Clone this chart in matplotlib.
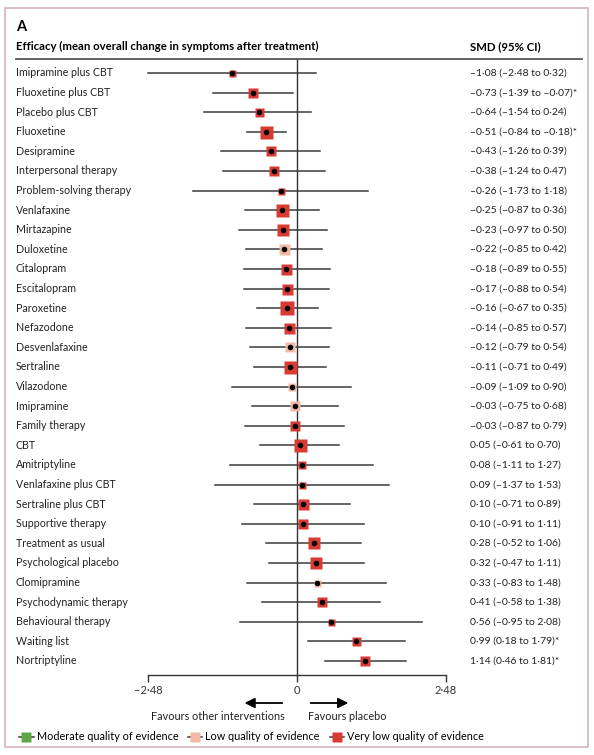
import matplotlib.pyplot as plt
from matplotlib.lines import Line2D
from matplotlib.patches import Rectangle
from matplotlib.transforms import blended_transform_factory

plt.rcParams['font.family'] = ['Lato', 'DejaVu Sans']

# data
names = ['Imipramine plus CBT', 'Fluoxetine plus CBT', 'Placebo plus CBT', 'Fluoxetine',
         'Desipramine', 'Interpersonal therapy', 'Problem-solving therapy', 'Venlafaxine',
         'Mirtazapine', 'Duloxetine', 'Citalopram', 'Escitalopram', 'Paroxetine',
         'Nefazodone', 'Desvenlafaxine', 'Sertraline', 'Vilazodone', 'Imipramine',
         'Family therapy', 'CBT', 'Amitriptyline', 'Venlafaxine plus CBT',
         'Sertraline plus CBT', 'Supportive therapy', 'Treatment as usual',
         'Psychological placebo', 'Clomipramine', 'Psychodynamic therapy',
         'Behavioural therapy', 'Waiting list', 'Nortriptyline']
smd = [-1.08, -0.73, -0.64, -0.51, -0.43, -0.38, -0.26, -0.25, -0.23, -0.22, -0.18,
       -0.17, -0.16, -0.14, -0.12, -0.11, -0.09, -0.03, -0.03, 0.05, 0.08, 0.09, 0.10,
       0.10, 0.28, 0.32, 0.33, 0.41, 0.56, 0.99, 1.14]
lo = [-2.48, -1.39, -1.54, -0.84, -1.26, -1.24, -1.73, -0.87, -0.97, -0.85, -0.89,
      -0.88, -0.67, -0.85, -0.79, -0.71, -1.09, -0.75, -0.87, -0.61, -1.11, -1.37,
      -0.71, -0.91, -0.52, -0.47, -0.83, -0.58, -0.95, 0.18, 0.46]
hi = [0.32, -0.07, 0.24, -0.18, 0.39, 0.47, 1.18, 0.36, 0.50, 0.42, 0.55, 0.54, 0.35,
      0.57, 0.54, 0.49, 0.90, 0.68, 0.79, 0.70, 1.27, 1.53, 0.89, 1.11, 1.06, 1.11,
      1.48, 1.38, 2.08, 1.79, 1.81]
quality = ['very low'] * 31
for i in (9, 14, 16, 17, 26):
    quality[i] = 'low'

# box size (px) as drawn
box = [7, 10, 9, 13, 10, 10, 7, 13, 12, 11, 11, 11, 14, 11, 10, 13, 8, 10, 10, 13,
       8, 7, 11, 10, 12, 12, 7, 10, 7, 9, 10]

colours = {'moderate': '#5fa845', 'low': '#f2b9a5', 'very low': '#d93a33'}

W, H = 594, 755
fig = plt.figure(figsize=(W / 100, H / 100), dpi=100)


def fx(px):
    return px / W


def fy(py):
    return 1 - py / H


# frame
fig.patches.append(Rectangle((fx(5), fy(747)), fx(588) - fx(5), fy(8) - fy(747),
                             transform=fig.transFigure, fill=False,
                             ec='#d7b3c0', lw=1.2))

fig.text(fx(16), fy(31), 'A', fontsize=10.5, fontweight='bold', va='baseline')
fig.text(fx(16), fy(50), 'Efficacy (mean overall change in symptoms after treatment)',
         fontsize=8.2, fontweight='bold', va='baseline')
fig.text(fx(470), fy(50), 'SMD (95% CI)', fontsize=8.2, fontweight='bold', va='baseline')
fig.add_artist(Line2D([fx(16), fx(582)], [fy(58.5), fy(58.5)], color='#555555', lw=1.3))

row0, step = 73, 19.6
top, bottom = 59, 675
ax = fig.add_axes([fx(148), fy(bottom), fx(446) - fx(148), (bottom - top) / H])
ax.set_xlim(-2.48, 2.48)
ax.set_ylim((bottom - row0) / step, (top - row0) / step)
for s in ('top', 'right', 'left'):
    ax.spines[s].set_visible(False)
ax.spines['bottom'].set_color('#333333')
ax.spines['bottom'].set_linewidth(1.0)
ax.set_yticks([])
ax.set_xticks([-2.48, 0, 2.48])
ax.set_xticklabels(['–2·48', '0', '2·48'], fontsize=8, color='#333333')
ax.tick_params(axis='x', length=5, width=1.0, color='#333333', pad=2)
ax.axvline(0, color='#333333', lw=1.0)
ax.patch.set_alpha(0)


def fmt(v):
    return f'{v:.2f}'.replace('.', '·').replace('-', '–')


tr = blended_transform_factory(fig.transFigure, ax.transData)
for i, name in enumerate(names):
    ax.plot([lo[i], hi[i]], [i, i], color='#3a3a3a', lw=1.1, clip_on=False, zorder=2)
    ax.plot(smd[i], i, marker='s', ms=box[i] * 0.72, color=colours[quality[i]],
            mec='none', clip_on=False, zorder=3)
    ax.plot(smd[i], i, marker='o', ms=3.0, color='black', clip_on=False, zorder=4)
    ax.text(fx(16), i, name, transform=tr, fontsize=7.7, va='center', color='#222222')
    star = '*' if (hi[i] < 0 or lo[i] > 0) else ''
    ax.text(fx(470), i, f'{fmt(smd[i])} ({fmt(lo[i])} to {fmt(hi[i])}){star}',
            transform=tr, fontsize=7.5, va='center', color='#222222')

# direction arrows
ta = blended_transform_factory(ax.transData, fig.transFigure)
arrow = dict(arrowstyle='-|>,head_length=0.6,head_width=0.3', color='black', lw=1.3)
ax.annotate('', xy=(-0.92, fy(703)), xytext=(-0.2, fy(703)), xycoords=ta,
            textcoords=ta, arrowprops=arrow, annotation_clip=False)
ax.annotate('', xy=(0.9, fy(703)), xytext=(0.18, fy(703)), xycoords=ta,
            textcoords=ta, arrowprops=arrow, annotation_clip=False)
ax.text(-0.21, fy(717), 'Favours other interventions', transform=ta, ha='right',
        va='center', fontsize=7.8, color='#222222')
ax.text(0.19, fy(717), 'Favours placebo', transform=ta, ha='left',
        va='center', fontsize=7.8, color='#222222')

handles = [Line2D([], [], color='#3a3a3a', lw=1.1, marker='s', ms=7,
                  mfc=colours[q], mec='none') for q in ('moderate', 'low', 'very low')]
labels = ['Moderate quality of evidence', 'Low quality of evidence',
          'Very low quality of evidence']
fig.legend(handles, labels, ncol=3, loc='center left', bbox_to_anchor=(fx(14), fy(737)),
           frameon=False, fontsize=7.8, handlelength=1.3, handletextpad=0.3,
           columnspacing=0.9, borderpad=0)

fig.savefig('out.png', dpi=100)
